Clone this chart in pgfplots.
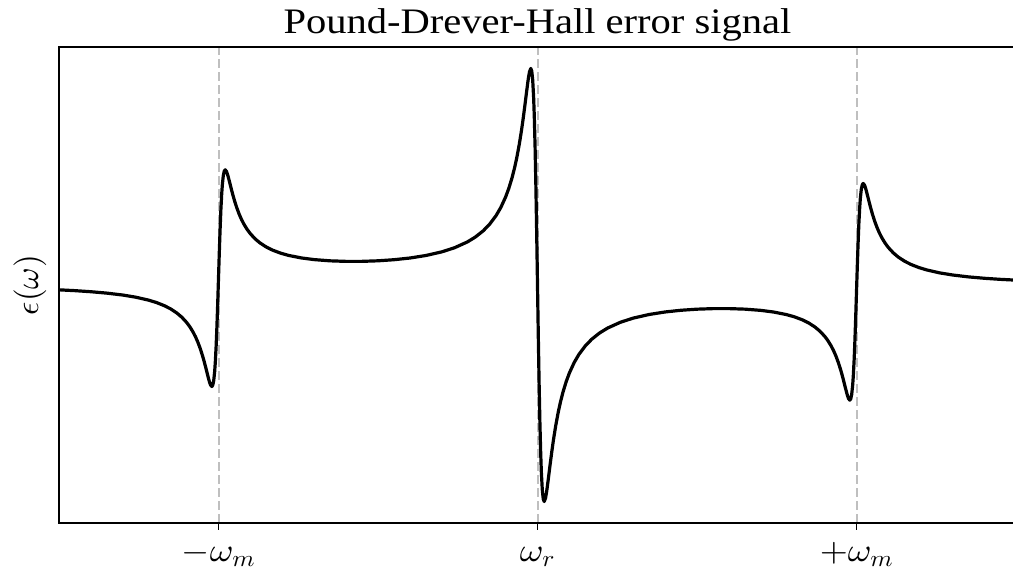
\documentclass[border=0pt]{standalone}
\usepackage{pgfplots}
\pgfplotsset{compat=1.18}
\usepackage[no-math]{fontspec}
\setmainfont{Liberation Serif}
\DeclareFontFamily{OML}{cmm}{\skewchar\font127 }
\DeclareFontShape{OML}{cmm}{m}{it}{<->cmmi10}{}
\DeclareFontFamily{OMS}{cmsy}{\skewchar\font48 }
\DeclareFontShape{OMS}{cmsy}{m}{n}{<->cmsy10}{}
\DeclareFontFamily{OT1}{cmr}{\hyphenchar\font45 }
\DeclareFontShape{OT1}{cmr}{m}{n}{<->cmr10}{}
\pgfplotstableread{
x y
-1.5 -0.0447
-1.45 -0.0523
-1.4 -0.0622
-1.35 -0.0752
-1.3 -0.0929
-1.26 -0.1124
-1.22 -0.1393
-1.195 -0.1617
-1.17 -0.1909
-1.15 -0.2211
-1.13 -0.2603
-1.115 -0.2979
-1.1 -0.3459
-1.09 -0.3856
-1.08 -0.4336
-1.072 -0.4795
-1.065 -0.5266
-1.057 -0.5897
-1.05 -0.6545
-1.045 -0.7066
-1.04 -0.7629
-1.035 -0.8219
-1.03 -0.8787
-1.028 -0.899
-1.025 -0.9238
-1.021 -0.9385
-1.018 -0.9265
-1.015 -0.8840
-1.012 -0.7994
-1.01 -0.7140
-1.0075 -0.5711
-1.005 -0.3880
-1.0025 -0.1720
-1.0 0.063
-0.9975 0.298
-0.995 0.5140
-0.9925 0.6971
-0.99 0.8400
-0.988 0.9254
-0.985 1.0100
-0.982 1.0526
-0.979 1.0646
-0.975 1.0499
-0.972 1.0251
-0.97 1.0049
-0.965 0.9481
-0.96 0.8892
-0.955 0.8329
-0.95 0.7809
-0.943 0.7163
-0.935 0.6532
-0.928 0.6063
-0.92 0.5606
-0.91 0.5129
-0.9 0.4735
-0.885 0.426
-0.87 0.3890
-0.85 0.3507
-0.83 0.3216
-0.805 0.294
-0.78 0.2733
-0.74 0.2499
-0.7 0.2346
-0.65 0.2233
-0.6 0.2183
-0.55 0.2185
-0.5 0.2236
-0.45 0.2336
-0.4 0.2493
-0.35 0.2726
-0.3 0.3062
-0.26 0.3444
-0.22 0.3978
-0.195 0.4428
-0.17 0.5013
-0.15 0.5621
-0.13 0.6409
-0.115 0.7166
-0.1 0.8131
-0.09 0.8928
-0.08 0.9892
-0.072 1.0813
-0.065 1.1757
-0.057 1.3024
-0.05 1.4322
-0.045 1.5366
-0.04 1.6496
-0.035 1.7677
-0.03 1.8817
-0.028 1.9224
-0.025 1.9721
-0.021 2.0018
-0.018 1.9779
-0.015 1.8931
-0.012 1.724
-0.01 1.5534
-0.0075 1.2676
-0.005 0.9016
-0.0025 0.4698
0 0
0.0025 -0.4698
0.005 -0.9016
0.0075 -1.2676
0.01 -1.5534
0.012 -1.724
0.015 -1.8931
0.018 -1.9779
0.021 -2.0018
0.025 -1.9721
0.028 -1.9224
0.03 -1.8817
0.035 -1.7677
0.04 -1.6496
0.045 -1.5366
0.05 -1.4322
0.057 -1.3024
0.065 -1.1757
0.072 -1.0813
0.08 -0.9892
0.09 -0.8928
0.1 -0.8131
0.115 -0.7166
0.13 -0.6409
0.15 -0.5621
0.17 -0.5013
0.195 -0.4428
0.22 -0.3978
0.26 -0.3444
0.3 -0.3062
0.35 -0.2726
0.4 -0.2493
0.45 -0.2336
0.5 -0.2236
0.55 -0.2185
0.6 -0.2183
0.65 -0.2233
0.7 -0.2346
0.74 -0.2499
0.78 -0.2733
0.805 -0.294
0.83 -0.3216
0.85 -0.3507
0.87 -0.3890
0.885 -0.426
0.9 -0.4735
0.91 -0.5129
0.92 -0.5606
0.928 -0.6063
0.935 -0.6532
0.943 -0.7163
0.95 -0.7809
0.955 -0.8329
0.96 -0.8892
0.965 -0.9481
0.97 -1.0049
0.972 -1.0251
0.975 -1.0499
0.979 -1.0646
0.982 -1.0526
0.985 -1.0100
0.988 -0.9254
0.99 -0.8400
0.9925 -0.6971
0.995 -0.5140
0.9975 -0.298
1.0 -0.063
1.0025 0.1720
1.005 0.3880
1.0075 0.5711
1.01 0.7140
1.012 0.7994
1.015 0.8840
1.018 0.9265
1.021 0.9385
1.025 0.9238
1.028 0.899
1.03 0.8787
1.035 0.8219
1.04 0.7629
1.045 0.7066
1.05 0.6545
1.057 0.5897
1.065 0.5266
1.072 0.4795
1.08 0.4336
1.09 0.3856
1.1 0.3459
1.115 0.2979
1.13 0.2603
1.15 0.2211
1.17 0.1909
1.195 0.1617
1.22 0.1393
1.26 0.1124
1.3 0.0929
1.35 0.0752
1.4 0.0622
1.45 0.0523
1.5 0.0447
}\pdhdata
\begin{document}
\begin{tikzpicture}[x=1bp,y=1bp]
\begin{axis}[
  name=ax,
  scale only axis,
  width=957bp, height=476bp,
  xmin=-1.5, xmax=1.5, ymin=-2.2, ymax=2.2,
  axis line style={line width=1.4bp, black},
  xtick={-1,0,1},
  xticklabels={$-\omega_m$,$\omega_r$,$+\omega_m$},
  ytick=\empty,
  xtick pos=bottom,
  tick align=outside,
  major tick length=7bp,
  every tick/.style={line width=1.4bp, black},
  xmajorgrids=true,
  major grid style={dash pattern=on 9bp off 4bp, color=black!25, line width=2bp},
  xticklabel style={font=\fontsize{33}{40}\selectfont, xscale=1.1, anchor=base, yshift=-32bp},
  title={Pound-Drever-Hall error signal},
  title style={font=\fontsize{36}{42}\selectfont, xscale=1.13, at={(0.5,1)}, anchor=base, yshift=8bp},
  ylabel={$\epsilon(\omega)$},
  ylabel style={font=\fontsize{33}{40}\selectfont, at={(0,0.5)}, anchor=center, yshift=29bp},
]
\addplot[black, line width=3.2bp, line join=round] table[x=x, y=y] {\pdhdata};
\end{axis}
\pgfresetboundingbox
\path[use as bounding box] ([shift={(-59bp,-53bp)}]ax.south west) rectangle ([shift={(-3bp,47bp)}]ax.north east);
\end{tikzpicture}
\end{document}
